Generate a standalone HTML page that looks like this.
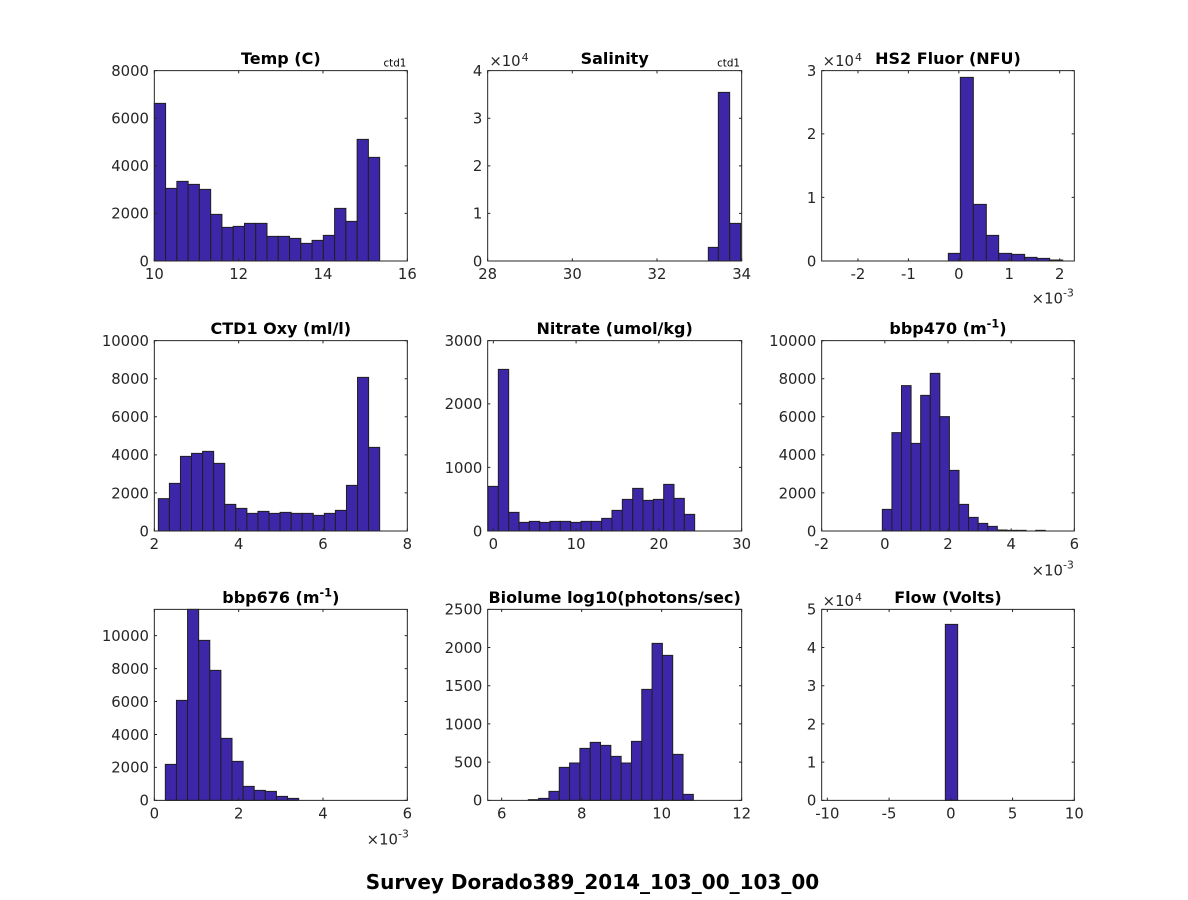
<!DOCTYPE html>
<html><head><meta charset="utf-8"><style>
html,body{margin:0;padding:0;background:#fff;}
svg{display:block;}
.tk{font-family:"DejaVu Sans","Liberation Sans",sans-serif;font-size:44.5px;fill:#262626;}
.tt{font-family:"DejaVu Sans","Liberation Sans",sans-serif;font-size:48px;font-weight:bold;fill:#000;}
.sm{font-family:"DejaVu Sans","Liberation Sans",sans-serif;font-size:31px;fill:#000;}
.bars rect{fill:#3e26a8;stroke:#1f1f1f;stroke-width:1;vector-effect:non-scaling-stroke;}
.ax{fill:none;stroke:#262626;stroke-width:1;vector-effect:non-scaling-stroke;}
.ym{text-anchor:end;}
.xm{text-anchor:middle;}
</style></head><body>
<svg width="1188" height="900" viewBox="0 0 1188 900" xmlns="http://www.w3.org/2000/svg">
<rect width="1188" height="900" fill="#fff"/>

<!-- Plot 1: Temp -->
<g transform="translate(90,40) scale(0.3333333)">
<g class="bars">
<rect x="193" y="190" width="33.8" height="473"/>
<rect x="226.8" y="445" width="33.8" height="218"/>
<rect x="260.6" y="424" width="33.8" height="239"/>
<rect x="294.4" y="433" width="33.8" height="230"/>
<rect x="328.2" y="448" width="33.8" height="215"/>
<rect x="362" y="523" width="33.8" height="140"/>
<rect x="395.8" y="562" width="33.8" height="101"/>
<rect x="429.6" y="559" width="33.8" height="104"/>
<rect x="463.4" y="550" width="33.8" height="113"/>
<rect x="497.2" y="550" width="33.8" height="113"/>
<rect x="531" y="589" width="33.8" height="74"/>
<rect x="564.8" y="589" width="33.8" height="74"/>
<rect x="598.6" y="595" width="33.8" height="68"/>
<rect x="632.4" y="610" width="33.8" height="53"/>
<rect x="666.2" y="601" width="33.8" height="62"/>
<rect x="700" y="586" width="33.8" height="77"/>
<rect x="733.8" y="505" width="33.8" height="158"/>
<rect x="767.6" y="544" width="33.8" height="119"/>
<rect x="801.4" y="298" width="33.8" height="365"/>
<rect x="835.2" y="352" width="33.8" height="311"/>
</g>
<rect class="ax" x="193" y="92" width="759" height="571"/>
<path class="ax" d="M193 663V655M446 663V655M699 663V655M952 663V655M193 92V100M446 92V100M699 92V100M952 92V100M193 663H201M193 520.25H201M193 377.5H201M193 234.75H201M193 92H201M952 663H944M952 520.25H944M952 377.5H944M952 234.75H944M952 92H944"/>
<text class="tk xm" x="193" y="717">10</text><text class="tk xm" x="446" y="717">12</text><text class="tk xm" x="699" y="717">14</text><text class="tk xm" x="952" y="717">16</text>
<text class="tk ym" x="177" y="679">0</text><text class="tk ym" x="177" y="536.25">2000</text><text class="tk ym" x="177" y="393.5">4000</text><text class="tk ym" x="177" y="250.75">6000</text><text class="tk ym" x="177" y="108">8000</text>
<text class="tt xm" x="572.5" y="72">Temp (C)</text>
<text class="sm" x="949" y="80" text-anchor="end">ctd1</text>
</g>

<!-- Plot 2: Salinity -->
<g transform="translate(430,40) scale(0.3333333)">
<g class="bars">
<rect x="835" y="622" width="30" height="41"/>
<rect x="865" y="157" width="34" height="506"/>
<rect x="899" y="550" width="33" height="113"/>
</g>
<rect class="ax" x="173" y="92" width="762" height="571"/>
<path class="ax" d="M173 663V655M427 663V655M681 663V655M935 663V655M173 92V100M427 92V100M681 92V100M935 92V100M173 663H181M173 520.25H181M173 377.5H181M173 234.75H181M173 92H181M935 663H927M935 520.25H927M935 377.5H927M935 234.75H927M935 92H927"/>
<text class="tk xm" x="173" y="717">28</text><text class="tk xm" x="427" y="717">30</text><text class="tk xm" x="681" y="717">32</text><text class="tk xm" x="935" y="717">34</text>
<text class="tk ym" x="157" y="679">0</text><text class="tk ym" x="157" y="536.25">1</text><text class="tk ym" x="157" y="393.5">2</text><text class="tk ym" x="157" y="250.75">3</text><text class="tk ym" x="157" y="108">4</text>
<text class="tk" x="178" y="78">×10<tspan font-size="33" dx="3" dy="-15">4</tspan></text>
<text class="tt xm" x="554" y="72">Salinity</text>
<text class="sm" x="930" y="80" text-anchor="end">ctd1</text>
</g>

<!-- Plot 3: HS2 Fluor -->
<g transform="translate(770,40) scale(0.3333333)">
<g class="bars">
<rect x="535" y="640" width="36" height="23"/>
<rect x="571" y="112" width="39" height="551"/>
<rect x="610" y="493" width="39" height="170"/>
<rect x="649" y="586" width="37" height="77"/>
<rect x="686" y="640" width="39" height="23"/>
<rect x="725" y="643" width="39" height="20"/>
<rect x="764" y="652" width="37" height="11"/>
<rect x="801" y="655" width="38" height="8"/>
<rect x="839" y="660" width="39" height="3"/>
</g>
<rect class="ax" x="155" y="92" width="758" height="571"/>
<path class="ax" d="M263.9 663V655M415.2 663V655M566.5 663V655M717.8 663V655M869.1 663V655M263.9 92V100M415.2 92V100M566.5 92V100M717.8 92V100M869.1 92V100M155 663H163M155 472.3H163M155 281.7H163M155 92H163M913 663H905M913 472.3H905M913 281.7H905M913 92H905"/>
<text class="tk xm" x="263.9" y="717">-2</text><text class="tk xm" x="415.2" y="717">-1</text><text class="tk xm" x="566.5" y="717">0</text><text class="tk xm" x="717.8" y="717">1</text><text class="tk xm" x="869.1" y="717">2</text>
<text class="tk ym" x="139" y="679">0</text><text class="tk ym" x="139" y="488.3">1</text><text class="tk ym" x="139" y="297.7">2</text><text class="tk ym" x="139" y="108">3</text>
<text class="tk" x="158" y="78">×10<tspan font-size="33" dx="3" dy="-15">4</tspan></text>
<text class="tk" x="785" y="790">×10<tspan font-size="33" dy="-21">-3</tspan></text>
<text class="tt xm" x="534" y="72">HS2 Fluor (NFU)</text>
</g>

<!-- Plot 4: CTD1 Oxy -->
<g transform="translate(90,310) scale(0.3333333)">
<g class="bars">
<rect x="205" y="566" width="33.2" height="97"/>
<rect x="238.2" y="520" width="33.2" height="143"/>
<rect x="271.4" y="439" width="33.2" height="224"/>
<rect x="304.6" y="430" width="33.2" height="233"/>
<rect x="337.8" y="424" width="33.2" height="239"/>
<rect x="371" y="460" width="33.2" height="203"/>
<rect x="404.2" y="583" width="33.2" height="80"/>
<rect x="437.4" y="595" width="33.2" height="68"/>
<rect x="470.6" y="610" width="33.2" height="53"/>
<rect x="503.8" y="604" width="33.2" height="59"/>
<rect x="537" y="610" width="33.2" height="53"/>
<rect x="570.2" y="607" width="33.2" height="56"/>
<rect x="603.4" y="610" width="33.2" height="53"/>
<rect x="636.6" y="610" width="33.2" height="53"/>
<rect x="669.8" y="616" width="33.2" height="47"/>
<rect x="703" y="610" width="33.2" height="53"/>
<rect x="736.2" y="601" width="33.2" height="62"/>
<rect x="769.4" y="526" width="33.2" height="137"/>
<rect x="802.6" y="202" width="33.2" height="461"/>
<rect x="835.8" y="412" width="33.2" height="251"/>
</g>
<rect class="ax" x="193" y="92" width="759" height="571"/>
<path class="ax" d="M193 663V655M446 663V655M699 663V655M952 663V655M193 92V100M446 92V100M699 92V100M952 92V100M193 663H201M193 548.8H201M193 434.6H201M193 320.4H201M193 206.2H201M193 92H201M952 663H944M952 548.8H944M952 434.6H944M952 320.4H944M952 206.2H944M952 92H944"/>
<text class="tk xm" x="193" y="717">2</text><text class="tk xm" x="446" y="717">4</text><text class="tk xm" x="699" y="717">6</text><text class="tk xm" x="952" y="717">8</text>
<text class="tk ym" x="177" y="679">0</text><text class="tk ym" x="177" y="564.8">2000</text><text class="tk ym" x="177" y="450.6">4000</text><text class="tk ym" x="177" y="336.4">6000</text><text class="tk ym" x="177" y="222.2">8000</text><text class="tk ym" x="177" y="108">10000</text>
<text class="tt xm" x="572.5" y="72">CTD1 Oxy (ml/l)</text>
</g>

<!-- Plot 5: Nitrate -->
<g transform="translate(430,310) scale(0.3333333)">
<g class="bars">
<rect x="174" y="529" width="31" height="134"/>
<rect x="205" y="178" width="31" height="485"/>
<rect x="236" y="607" width="31" height="56"/>
<rect x="267" y="637" width="31" height="26"/>
<rect x="298" y="634" width="31" height="29"/>
<rect x="329" y="637" width="31" height="26"/>
<rect x="360" y="634" width="31" height="29"/>
<rect x="391" y="634" width="31" height="29"/>
<rect x="422" y="637" width="31" height="26"/>
<rect x="453" y="634" width="31" height="29"/>
<rect x="484" y="634" width="31" height="29"/>
<rect x="515" y="625" width="31" height="38"/>
<rect x="546" y="601" width="31" height="62"/>
<rect x="577" y="568" width="31" height="95"/>
<rect x="608" y="535" width="31" height="128"/>
<rect x="639" y="571" width="31" height="92"/>
<rect x="670" y="568" width="31" height="95"/>
<rect x="701" y="523" width="31" height="140"/>
<rect x="732" y="565" width="31" height="98"/>
<rect x="763" y="613" width="31" height="50"/>
</g>
<rect class="ax" x="173" y="92" width="762" height="571"/>
<path class="ax" d="M190 663V655M438.3 663V655M686.7 663V655M935 663V655M190 92V100M438.3 92V100M686.7 92V100M935 92V100M173 663H181M173 472.3H181M173 281.7H181M173 92H181M935 663H927M935 472.3H927M935 281.7H927M935 92H927"/>
<text class="tk xm" x="190" y="717">0</text><text class="tk xm" x="438.3" y="717">10</text><text class="tk xm" x="686.7" y="717">20</text><text class="tk xm" x="935" y="717">30</text>
<text class="tk ym" x="157" y="679">0</text><text class="tk ym" x="157" y="488.3">1000</text><text class="tk ym" x="157" y="297.7">2000</text><text class="tk ym" x="157" y="108">3000</text>
<text class="tt xm" x="554" y="72">Nitrate (umol/kg)</text>
</g>

<!-- Plot 6: bbp470 -->
<g transform="translate(770,310) scale(0.3333333)">
<g class="bars">
<rect x="337" y="598" width="28.75" height="65"/>
<rect x="365.75" y="368" width="28.75" height="295"/>
<rect x="394.5" y="227" width="28.75" height="436"/>
<rect x="423.25" y="400" width="28.75" height="263"/>
<rect x="452" y="256" width="28.75" height="407"/>
<rect x="480.75" y="190" width="28.75" height="473"/>
<rect x="509.5" y="320" width="28.75" height="343"/>
<rect x="538.25" y="481" width="28.75" height="182"/>
<rect x="567" y="583" width="28.75" height="80"/>
<rect x="595.75" y="622" width="28.75" height="41"/>
<rect x="624.5" y="640" width="28.75" height="23"/>
<rect x="653.25" y="649" width="28.75" height="14"/>
<rect x="682" y="660" width="28.75" height="3"/>
<rect x="710.75" y="661" width="28.75" height="2"/>
<rect x="739.5" y="661" width="28.75" height="2"/>
<rect x="797" y="661" width="28.75" height="2"/>
</g>
<rect class="ax" x="155" y="92" width="758" height="571"/>
<path class="ax" d="M155 663V655M344.5 663V655M534 663V655M723.5 663V655M913 663V655M155 92V100M344.5 92V100M534 92V100M723.5 92V100M913 92V100M155 663H163M155 548.8H163M155 434.6H163M155 320.4H163M155 206.2H163M155 92H163M913 663H905M913 548.8H905M913 434.6H905M913 320.4H905M913 206.2H905M913 92H905"/>
<text class="tk xm" x="155" y="717">-2</text><text class="tk xm" x="344.5" y="717">0</text><text class="tk xm" x="534" y="717">2</text><text class="tk xm" x="723.5" y="717">4</text><text class="tk xm" x="913" y="717">6</text>
<text class="tk ym" x="139" y="679">0</text><text class="tk ym" x="139" y="564.8">2000</text><text class="tk ym" x="139" y="450.6">4000</text><text class="tk ym" x="139" y="336.4">6000</text><text class="tk ym" x="139" y="222.2">8000</text><text class="tk ym" x="139" y="108">10000</text>
<text class="tk" x="785" y="797">×10<tspan font-size="33" dy="-21">-3</tspan></text>
<text class="tt xm" x="534" y="72">bbp470 (m<tspan font-size="34" dy="-20">-1</tspan><tspan dy="20">)</tspan></text>
</g>

<!-- Plot 7: bbp676 -->
<g transform="translate(90,580) scale(0.3333333)">
<g class="bars">
<rect x="226" y="553" width="33.33" height="108"/>
<rect x="259.33" y="361" width="33.33" height="300"/>
<rect x="292.67" y="88" width="33.33" height="573"/>
<rect x="326" y="181" width="33.33" height="480"/>
<rect x="359.33" y="271" width="33.33" height="390"/>
<rect x="392.67" y="475" width="33.33" height="186"/>
<rect x="426" y="544" width="33.33" height="117"/>
<rect x="459.33" y="619" width="33.33" height="42"/>
<rect x="492.67" y="631" width="33.33" height="30"/>
<rect x="526" y="634" width="33.33" height="27"/>
<rect x="559.33" y="649" width="33.33" height="12"/>
<rect x="592.67" y="655" width="33.33" height="6"/>
</g>
<rect class="ax" x="193" y="88" width="759" height="573"/>
<path class="ax" d="M193 661V653M446 661V653M699 661V653M952 661V653M193 88V96M446 88V96M699 88V96M952 88V96M193 661H201M193 562.2H201M193 463.4H201M193 364.6H201M193 265.8H201M193 167H201M952 661H944M952 562.2H944M952 463.4H944M952 364.6H944M952 265.8H944M952 167H944"/>
<text class="tk xm" x="193" y="715">0</text><text class="tk xm" x="446" y="715">2</text><text class="tk xm" x="699" y="715">4</text><text class="tk xm" x="952" y="715">6</text>
<text class="tk ym" x="177" y="677">0</text><text class="tk ym" x="177" y="578.2">2000</text><text class="tk ym" x="177" y="479.4">4000</text><text class="tk ym" x="177" y="380.6">6000</text><text class="tk ym" x="177" y="281.8">8000</text><text class="tk ym" x="177" y="183">10000</text>
<text class="tk" x="830" y="793">×10<tspan font-size="33" dy="-21">-3</tspan></text>
<text class="tt xm" x="572.5" y="69">bbp676 (m<tspan font-size="34" dy="-20">-1</tspan><tspan dy="20">)</tspan></text>
</g>

<!-- Plot 8: Biolume -->
<g transform="translate(430,580) scale(0.3333333)">
<g class="bars">
<rect x="295" y="659" width="30.94" height="2"/>
<rect x="325.94" y="655" width="30.94" height="6"/>
<rect x="356.88" y="634" width="30.94" height="27"/>
<rect x="387.81" y="562" width="30.94" height="99"/>
<rect x="418.75" y="549" width="30.94" height="112"/>
<rect x="449.69" y="505" width="30.94" height="156"/>
<rect x="480.63" y="487" width="30.94" height="174"/>
<rect x="511.56" y="496" width="30.94" height="165"/>
<rect x="542.5" y="529" width="30.94" height="132"/>
<rect x="573.44" y="549" width="30.94" height="112"/>
<rect x="604.38" y="484" width="30.94" height="177"/>
<rect x="635.31" y="328" width="30.94" height="333"/>
<rect x="666.25" y="190" width="30.94" height="471"/>
<rect x="697.19" y="226" width="30.94" height="435"/>
<rect x="728.13" y="523" width="30.94" height="138"/>
<rect x="759.06" y="643" width="30.94" height="18"/>
</g>
<rect class="ax" x="173" y="88" width="762" height="573"/>
<path class="ax" d="M215 661V653M455 661V653M695 661V653M935 661V653M215 88V96M455 88V96M695 88V96M935 88V96M173 661H181M173 546.4H181M173 431.8H181M173 317.2H181M173 202.6H181M173 88H181M935 661H927M935 546.4H927M935 431.8H927M935 317.2H927M935 202.6H927M935 88H927"/>
<text class="tk xm" x="215" y="715">6</text><text class="tk xm" x="455" y="715">8</text><text class="tk xm" x="695" y="715">10</text><text class="tk xm" x="935" y="715">12</text>
<text class="tk ym" x="157" y="677">0</text><text class="tk ym" x="157" y="562.4">500</text><text class="tk ym" x="157" y="447.8">1000</text><text class="tk ym" x="157" y="333.2">1500</text><text class="tk ym" x="157" y="218.6">2000</text><text class="tk ym" x="157" y="104">2500</text>
<text class="tt xm" x="554" y="69">Biolume log10(photons/sec)</text>
</g>

<!-- Plot 9: Flow -->
<g transform="translate(770,580) scale(0.3333333)">
<g class="bars">
<rect x="526" y="133" width="37" height="528"/>
</g>
<rect class="ax" x="155" y="88" width="758" height="573"/>
<path class="ax" d="M172 661V653M357.25 661V653M542.5 661V653M727.75 661V653M913 661V653M172 88V96M357.25 88V96M542.5 88V96M727.75 88V96M913 88V96M155 661H163M155 546.4H163M155 431.8H163M155 317.2H163M155 202.6H163M155 88H163M913 661H905M913 546.4H905M913 431.8H905M913 317.2H905M913 202.6H905M913 88H905"/>
<text class="tk xm" x="172" y="715">-10</text><text class="tk xm" x="357.25" y="715">-5</text><text class="tk xm" x="542.5" y="715">0</text><text class="tk xm" x="727.75" y="715">5</text><text class="tk xm" x="913" y="715">10</text>
<text class="tk ym" x="139" y="677">0</text><text class="tk ym" x="139" y="562.4">1</text><text class="tk ym" x="139" y="447.8">2</text><text class="tk ym" x="139" y="333.2">3</text><text class="tk ym" x="139" y="218.6">4</text><text class="tk ym" x="139" y="104">5</text>
<text class="tk" x="158" y="78">×10<tspan font-size="33" dx="3" dy="-15">4</tspan></text>
<text class="tt xm" x="534" y="69">Flow (Volts)</text>
</g>

<text x="592.5" y="889" text-anchor="middle" style="font-family:'DejaVu Sans','Liberation Sans',sans-serif;font-size:20px;font-weight:bold;fill:#000">Survey Dorado389_2014_103_00_103_00</text>
</svg>
</body></html>
